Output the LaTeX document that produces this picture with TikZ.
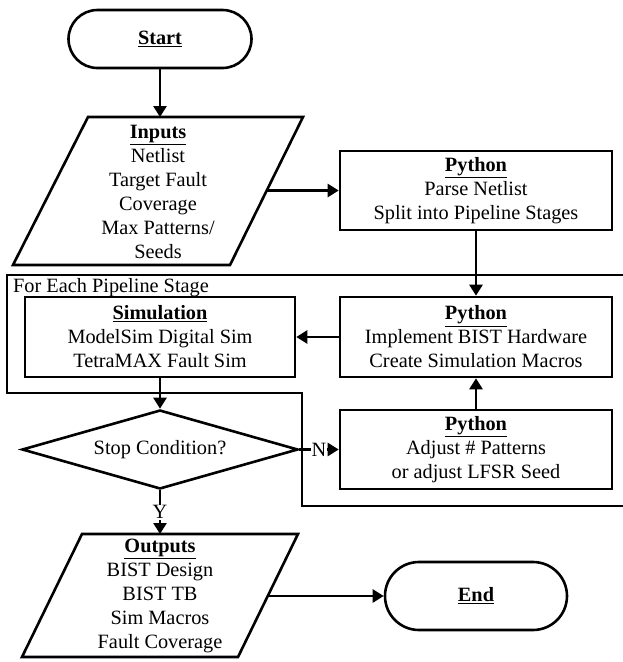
\documentclass[tikz,border=0pt]{standalone}
\usepackage{fontspec}
\setmainfont{Liberation Serif}
\usetikzlibrary{shapes.geometric,arrows.meta}
\begin{document}
\begin{tikzpicture}[x=1pt,y=-1pt,
  lw/.style={line width=2.6pt},
  txt/.style={align=center, font=\fontsize{20.3}{24}\selectfont, inner sep=0pt},
  pybox/.style={txt, draw, lw, rectangle, minimum width=272pt, minimum height=80pt},
  term/.style={txt, draw, lw, minimum width=183pt},
  arr/.style={lw, -{Triangle[length=11pt,width=13pt]}},
  lbl/.style={font=\fontsize{20.3}{24}\selectfont, fill=white, inner sep=1pt}]
\useasboundingbox (0,0) rectangle (623,662);

% loop outline
\draw[lw] (623,275) -- (7,275) -- (7,393) -- (302,393) -- (302,506) -- (623,506);
\node[txt, anchor=base west] (looplbl) at (13,292) {For Each Pipeline Stage};

% start
\node[term, minimum height=58pt, rounded corners=29pt] (start) at (160,39) {\textbf{\underline{Start}}};

% inputs parallelogram
\draw[lw] (88,117) -- (303,117) -- (230,265) -- (13,265) -- cycle;
\node[txt] (inputs) at (158,192) {\textbf{\underline{Inputs}}\\Netlist\\Target Fault\\Coverage\\Max Patterns/\\Seeds};
\coordinate (inR) at (266.5,190.5);
\coordinate (inT) at (160,117);

% python boxes
\node[pybox, minimum height=79pt] (py1) at (476,190.5) {\textbf{\underline{Python}}\\Parse Netlist\\Split into Pipeline Stages};
\node[pybox] (py2) at (476,337) {\textbf{\underline{Python}}\\Implement BIST Hardware\\Create Simulation Macros};
\node[pybox, minimum height=79pt] (py3) at (476,449.5) {\textbf{\underline{Python}}\\Adjust \# Patterns\\or adjust LFSR Seed};

% simulation
\node[pybox, minimum width=270pt] (sim) at (160,337) {\textbf{\underline{Simulation}}\\ModelSim Digital Sim\\TetraMAX Fault Sim};

% decision
\node[txt, draw, lw, diamond, aspect=3.5, minimum width=276pt, minimum height=79pt] (stop) at (160,449.5) {Stop Condition?};

% outputs parallelogram
\draw[lw] (82,534) -- (298,534) -- (238,657) -- (22,657) -- cycle;
\node[txt] (outputs) at (160,596) {\textbf{\underline{Outputs}}\\BIST Design\\BIST TB\\Sim Macros\\Fault Coverage};
\coordinate (outR) at (268,596);
\coordinate (outT) at (160,534);

% end
\node[term, minimum width=182pt, minimum height=68pt, rounded corners=34pt] (end) at (476,596) {\textbf{\underline{End}}};

% connectors
\draw[arr] (start.south) -- (inT);
\draw[arr] (inR) -- (py1.west);
\draw[arr] (py1.south) -- (py2.north);
\draw[arr] (py2.west) -- (sim.east);
\draw[arr] (sim.south) -- (stop.north);
\draw[arr] (stop.east) -- node[lbl] (nlbl) {N} (py3.west);
\draw[arr] (py3.north) -- (py2.south);
\draw[arr] (stop.south) -- node[lbl] (ylbl) {Y} (outT);
\draw[arr] (outR) -- (end.west);
\end{tikzpicture}
\end{document}
